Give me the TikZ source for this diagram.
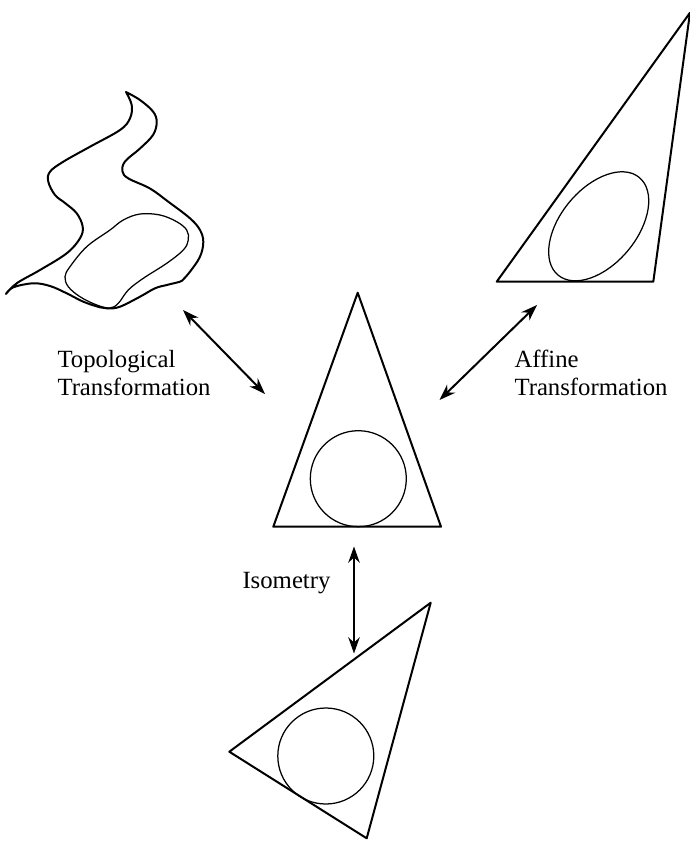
\documentclass[tikz,border=0pt]{standalone}
\usepackage{fontspec}
\setmainfont{Liberation Serif}
\usetikzlibrary{arrows.meta}
\tikzset{every node/.style={font=\fontsize{9.9}{11.2}\selectfont,inner sep=0pt},
  figline/.style={line width=0.8pt},
  inline/.style={line width=0.5pt},
  transfo/.style={<->,line width=0.8pt}}

\begin{document}
\begin{tikzpicture}[line cap=round,line join=round,>={Stealth[length=6.5pt,width=4.6pt]},x=0.4pt,y=-0.4pt]
\useasboundingbox (0,0) rectangle (690,841);
% original triangle
\coordinate (midtop) at (357.7,292.7);
\coordinate (midleft) at (273.3,526.7);
\coordinate (midright) at (441,526.7);
\draw[figline] (midtop) -- (midleft) -- (midright) -- cycle;
\draw[inline] (358.3,478.7) circle (48);
% affine image
\coordinate (afftop) at (690,12.7);
\coordinate (affleft) at (496.7,281.7);
\coordinate (affright) at (653.3,281.7);
\draw[figline] (afftop) -- (affleft) -- (affright) -- cycle;
\draw[inline,rotate around={50.2:(598.7,226.3)}] (598.7,226.3) ellipse (63.5 and 38);
% isometric image
\coordinate (isotop) at (430.7,602.7);
\coordinate (isoleft) at (229.3,751.7);
\coordinate (isobottom) at (366.7,838.3);
\draw[figline] (isotop) -- (isoleft) -- (isobottom) -- cycle;
\draw[inline] (325.8,756) circle (48);
% topological image
\draw[figline] plot[smooth,tension=0.6] coordinates {(126,92) (140,100) (153,111.5) (156.7,122) (153,135) (140,148.5) (125,161.5) (122.5,171.5) (128.5,178.5) (150,188.5) (168,201.5) (190,218.3) (200,230) (203.3,242) (200,256.7) (190,271.7) (182.7,280)}
  -- plot[smooth,tension=0.6] coordinates {(182.7,280) (180,281.7) (166.7,285) (155,288.3) (140,296.7) (120,306.7) (108,308.5) (100,307.3) (83.3,301.7) (66.7,293.3) (50,286) (33.3,283.3) (13.3,287.3) (6,294)}
  -- plot[smooth,tension=0.6] coordinates {(6,294) (16.7,283.3) (40,270) (66.7,253.3) (80,238.3) (82.7,226.7) (76.7,213.3) (65,203) (55,195) (48.3,181.7) (50,171.7) (63.3,161.7) (90,146.7) (120,130) (130,118.3) (131.7,105) (126,92)} -- cycle;
\draw[inline] plot[smooth cycle,tension=0.6] coordinates {(110,230) (123.3,220) (140,214) (160,215) (176.7,221.7) (186.7,230) (188.3,240) (183.3,250) (166.7,263.3) (143.3,278.3) (128.3,290) (118.3,303.3) (110,308) (96.7,305) (80,296.7) (68.3,286.7) (65,276.7) (70,266.7) (86.7,246.7)};
% transformations
\coordinate (topoend) at (183,310);
\coordinate (topomid) at (265,394);
\coordinate (affend) at (537,305);
\coordinate (affmid) at (439.5,400);
\coordinate (isomid) at (354,546.5);
\coordinate (isoend) at (354,653.5);
\draw[transfo] (topoend) -- (topomid);
\draw[transfo] (affend) -- (affmid);
\draw[transfo] (isomid) -- (isoend);
\node[anchor=north west,align=left] (topolabel) at (57,350) {Topological\\Transformation};
\node[anchor=north west,align=left] (afflabel) at (514,350) {Affine\\Transformation};
\node[anchor=base west] (isolabel) at (242,588) {Isometry};
\end{tikzpicture}
\end{document}
